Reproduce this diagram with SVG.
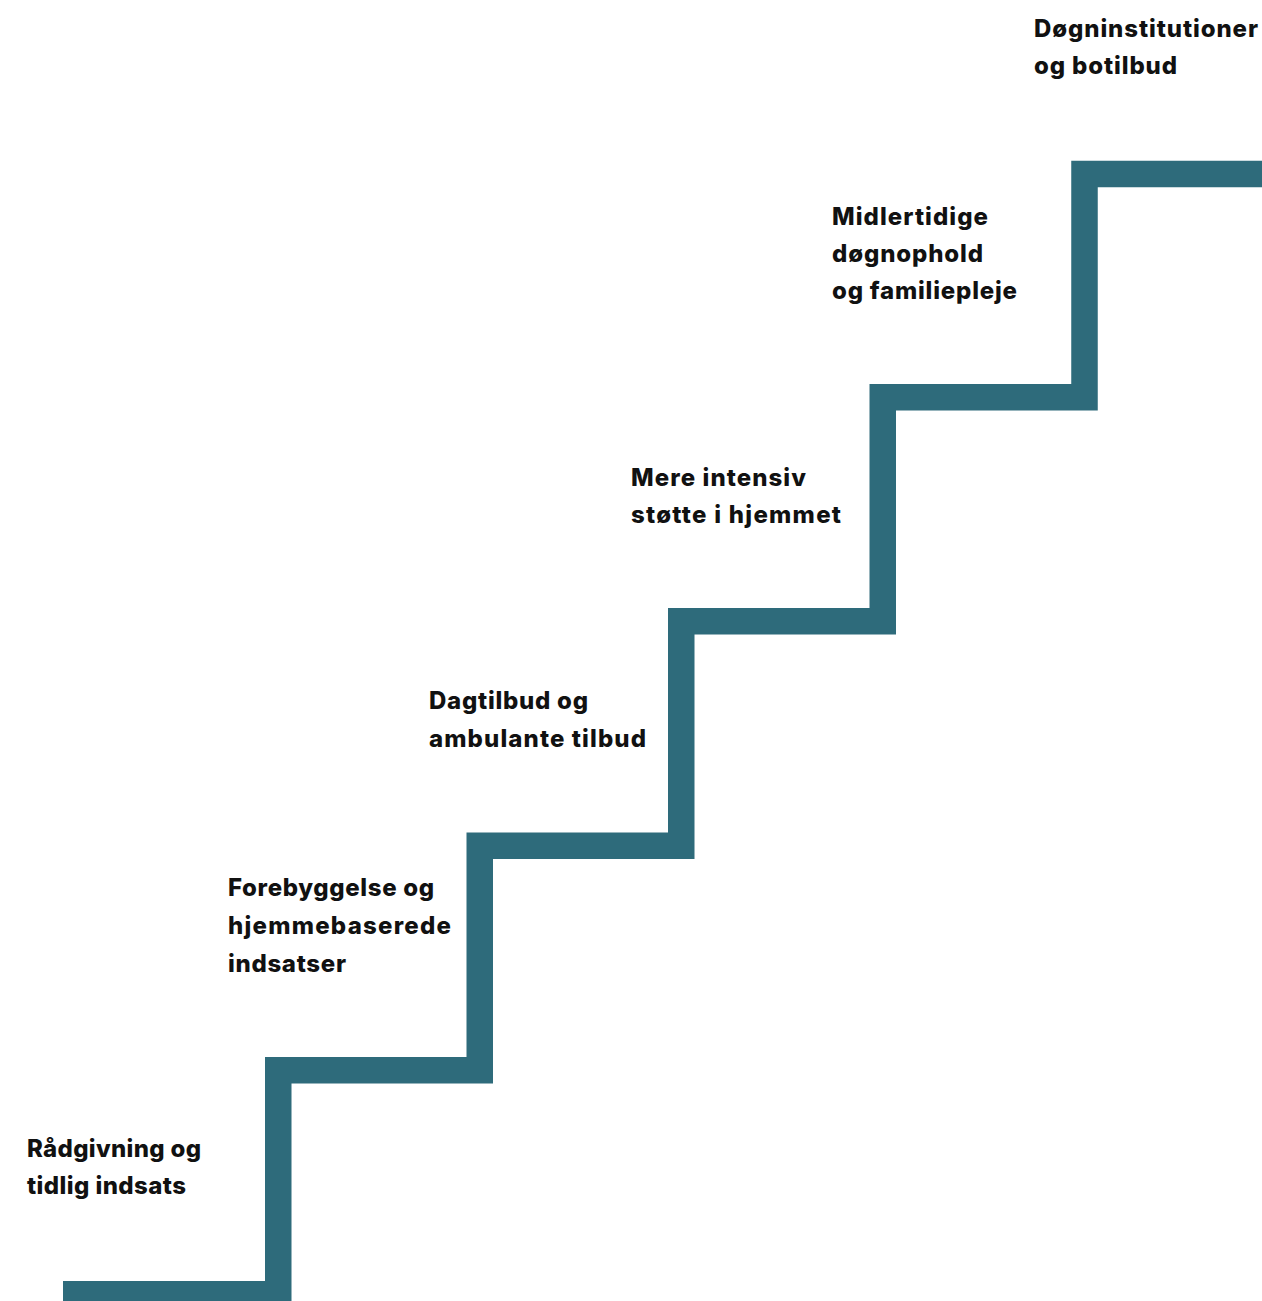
<svg xmlns="http://www.w3.org/2000/svg" width="1262" height="1301" viewBox="0 0 1262 1301">
<style>
.lbl{font-family:Inter,"Noto Sans","Liberation Sans",sans-serif;font-weight:800;font-size:24px;fill:#111}
.stair{fill:none;stroke:#2e6b7b;stroke-width:26.5;stroke-linejoin:miter;stroke-linecap:butt}
</style>
<rect width="1262" height="1301" fill="#fff"/>
<g id="connectors">
<path class="stair" d="M63,1294.25 H278.25 V1070.25 H479.75 V845.75 H681.25 V621.25 H882.75 V397.25 H1084.5 V174 H1262"/>
</g>
<g id="step1"><text class="lbl" x="27" y="1157" textLength="174" lengthAdjust="spacing">Rådgivning og</text><text class="lbl" x="27" y="1194" textLength="159" lengthAdjust="spacing">tidlig indsats</text></g>
<g id="step2"><text class="lbl" x="228" y="896" textLength="206" lengthAdjust="spacing">Forebyggelse og</text><text class="lbl" x="228" y="934" textLength="223" lengthAdjust="spacing">hjemmebaserede</text><text class="lbl" x="228" y="972" textLength="118" lengthAdjust="spacing">indsatser</text></g>
<g id="step3"><text class="lbl" x="429" y="709" textLength="159" lengthAdjust="spacing">Dagtilbud og</text><text class="lbl" x="429" y="747" textLength="217" lengthAdjust="spacing">ambulante tilbud</text></g>
<g id="step4"><text class="lbl" x="631" y="486" textLength="175" lengthAdjust="spacing">Mere intensiv</text><text class="lbl" x="631" y="523" textLength="210" lengthAdjust="spacing">støtte i hjemmet</text></g>
<g id="step5"><text class="lbl" x="832" y="225" textLength="156" lengthAdjust="spacing">Midlertidige</text><text class="lbl" x="832" y="262" textLength="151" lengthAdjust="spacing">døgnophold</text><text class="lbl" x="832" y="299" textLength="185" lengthAdjust="spacing">og familiepleje</text></g>
<g id="step6"><text class="lbl" x="1034" y="37" textLength="224" lengthAdjust="spacing">Døgninstitutioner</text><text class="lbl" x="1034" y="74" textLength="143" lengthAdjust="spacing">og botilbud</text></g>
</svg>
